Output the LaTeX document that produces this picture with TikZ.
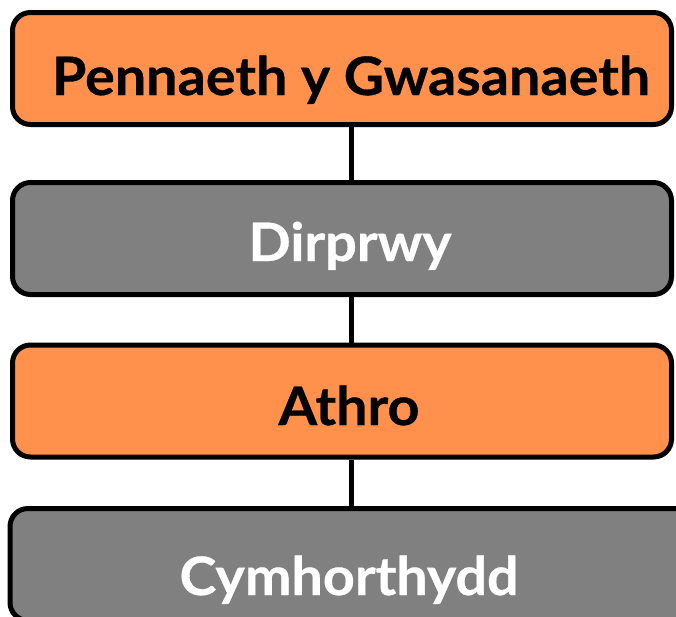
\documentclass[tikz,border=0pt]{standalone}
\usepackage{fontspec}
\setmainfont{Lato}[BoldFeatures={FakeStretch=1.05,FakeBold=0.6}]
\usetikzlibrary{shadows}
\definecolor{boxorange}{HTML}{FF914D}
\definecolor{boxgray}{HTML}{808080}
\tikzset{
  orgbox/.style={draw=black, line width=5pt, rounded corners=18pt,
    minimum width=659pt, minimum height=112pt, inner sep=0pt,
    drop shadow={shadow xshift=2pt, shadow yshift=-2pt, opacity=0.35}},
  orangebox/.style={orgbox, fill=boxorange},
  graybox/.style={orgbox, fill=boxgray},
  lbl/.style={anchor=base, inner sep=0pt, font=\fontsize{53}{63}\selectfont\bfseries},
  conn/.style={draw=black, line width=5pt}
}
\begin{document}
\begin{tikzpicture}[x=1pt,y=-1pt]
\useasboundingbox (0,0) rectangle (676,616);
\clip (0,0) rectangle (676,616);
\node[orangebox] (b1) at (342,68.5) {};
\node[graybox] (b2) at (342,238.5) {};
\node[orangebox] (b3) at (342,401) {};
\node[graybox, minimum width=700pt] (b4) at (360,564.5) {};
\coordinate (cx) at (351,0);
\draw[conn] (b1.south -| cx) -- (b2.north -| cx);
\draw[conn] (b2.south -| cx) -- (b3.north -| cx);
\draw[conn] (b3.south -| cx) -- (b4.north -| cx);
\node[lbl, text=black] (t1) at (351,95) {Pennaeth y Gwasanaeth};
\node[lbl, text=white] (t2) at (350,261) {Dirprwy};
\node[lbl, text=black] (t3) at (349,425) {Athro};
\node[lbl, text=white] (t4) at (349,595) {Cymhorthydd};
\end{tikzpicture}
\end{document}
